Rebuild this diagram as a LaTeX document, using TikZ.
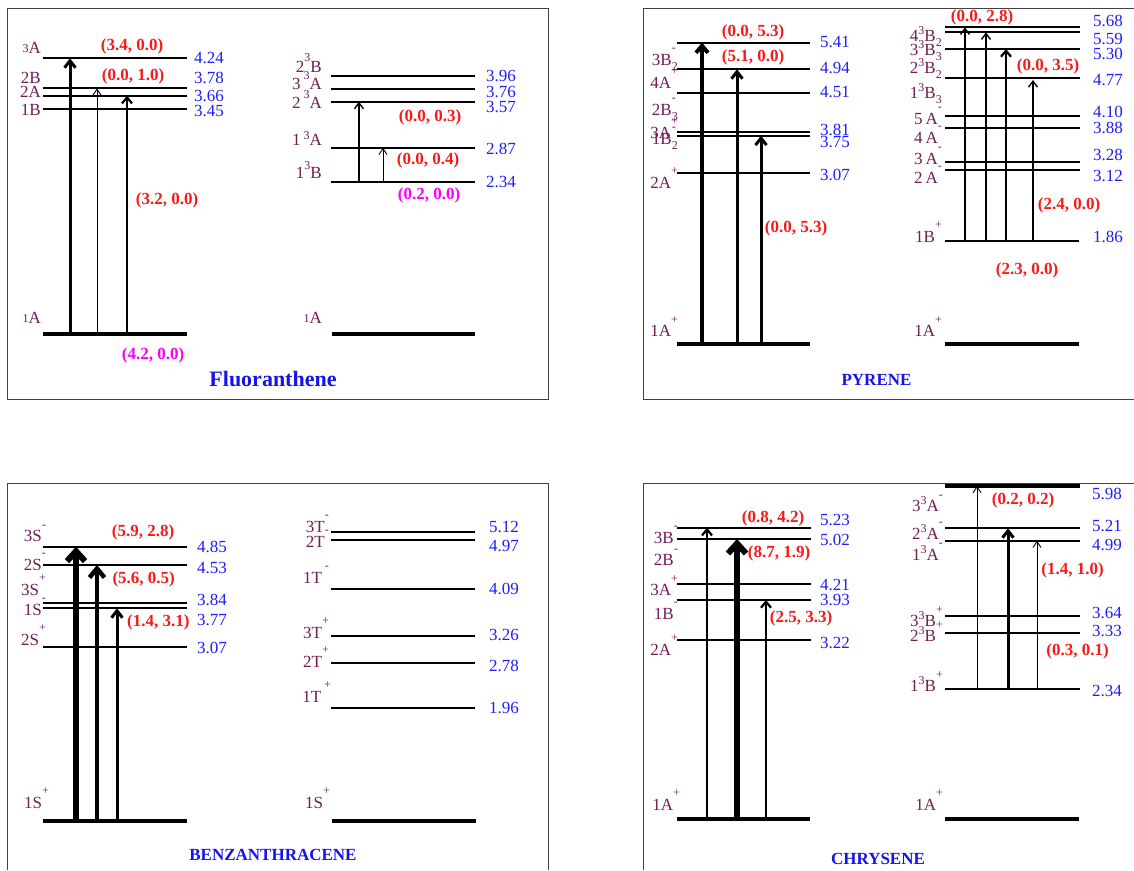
\documentclass[tikz,border=0pt]{standalone}
\usepackage{fontspec}
\setmainfont{Liberation Serif}
\usetikzlibrary{arrows.meta}
\definecolor{labc}{RGB}{112,30,86}
\definecolor{valc}{RGB}{30,30,250}
\definecolor{oscc}{RGB}{250,25,25}
\definecolor{magc}{RGB}{250,0,250}
\definecolor{ttlc}{RGB}{20,20,235}
\newcommand\fm{\fontsize{17}{20}\selectfont}
\newcommand\fsm{\fontsize{12}{14}\selectfont}
% state-label decorations
\newcommand\lsup[1]{\raisebox{0.8em}{\fsm #1}}
\newcommand\lsub[1]{\raisebox{-0.3em}{\fsm #1}}
\newcommand\lsupsub[2]{\makebox[0pt][l]{\lsup{#1}}\lsub{#2}}
\newcommand\ltri[2][0.4em]{\raisebox{#1}{\fsm #2}}
\newcommand\lpre[1]{\raisebox{0.05em}{\fsm #1}}
% drawing helpers
\newcounter{nd}
\newcommand\lvl[3]{\draw[lev] (#1,#3) -- (#2,#3);}
\newcommand\lvlab[3]{\stepcounter{nd}\node[lab] (lb\arabic{nd}) at (#1,#2) {#3};}
\newcommand\lvval[3]{\stepcounter{nd}\node[val] (vl\arabic{nd}) at (#1,#2) {#3};}
\newcommand\lvosc[4][osc]{\stepcounter{nd}\node[#1] (os\arabic{nd}) at (#2,#3) {#4};}
\newcommand\lvtr[5]{\coordinate (#1s) at (#2,#3); \coordinate (#1e) at (#2,#4); \draw[#5] (#1s) -- (#1e);}
\begin{document}
\begin{tikzpicture}[x=1pt,y=-1pt,
  lev/.style={line width=2.2pt},
  gnd/.style={line width=3.6pt},
  frame/.style={line width=1pt, draw=black!75},
  lab/.style={text=labc, anchor=base east, inner sep=0pt, font=\fm},
  val/.style={text=valc, anchor=base west, inner sep=0pt, font=\fm},
  osc/.style={text=oscc, font=\fm\bfseries, inner sep=0pt},
  osm/.style={text=magc, font=\fm\bfseries, inner sep=0pt},
  ttl/.style={text=ttlc, anchor=base, inner sep=0pt},
  tA/.style={line width=0.9pt, -{Straight Barb[length=6pt,width=8pt]}},
  tB/.style={line width=1.4pt, -{Straight Barb[length=6pt,width=9pt]}},
  tC/.style={line width=2.2pt, -{Straight Barb[length=6pt,width=10pt]}},
  tD/.style={line width=3pt, -{Straight Barb[length=7pt,width=11pt]}},
  tE/.style={line width=4pt, -{Straight Barb[length=7pt,width=12pt]}},
  tF/.style={line width=6pt, -{Straight Barb[length=10pt,width=18pt]}},
  tG/.style={line width=4.5pt, -{Straight Barb[length=9pt,width=15pt]}}]
\fill[white] (0,0) rectangle (1134,870);
\path[use as bounding box] (0,0) rectangle (1134,870);

% ---------- frames ----------
\draw[frame] (7,8) rectangle (548,399);
\draw[frame] (1134,8) -- (643,8) -- (643,399) -- (1134,399);
\draw[frame] (7,870) -- (7,483) -- (548,483) -- (548,870);
\draw[frame] (643,870) -- (643,483) -- (1134,483);

% ================= Fluoranthene =================
\lvosc{132}{46}{(3.4, 0.0)}
\lvosc{133}{76}{(0.0, 1.0)}
\lvosc{167}{200}{(3.2, 0.0)}
\lvosc[osm]{153}{355}{(4.2, 0.0)}
\lvosc{430}{117.5}{(0.0, 0.3)}
\lvosc{428}{160}{(0.0, 0.4)}
\lvosc[osm]{429}{195.5}{(0.2, 0.0)}
\stepcounter{nd}\node[ttl, font=\fontsize{22}{26}\selectfont\bfseries] (ttlF) at (273,386) {Fluoranthene};

\lvl{43}{187}{58.3}
\lvl{43}{187}{88.3}
\lvl{43}{187}{95.7}
\lvl{43}{187}{109.3}
\draw[gnd] (43,334) -- (187,334);
\lvl{331}{475}{76}
\lvl{331}{475}{89.3}
\lvl{331}{475}{101.7}
\lvl{331}{475}{147.7}
\lvl{331}{475}{182.3}
\draw[gnd] (332,334) -- (475,334);

\lvtr{fa}{70}{334}{58.3}{tD}
\lvtr{fb}{97}{334}{88.3}{tA}
\lvtr{fc}{127}{334}{95.7}{tC}
\lvtr{fd}{359}{182.3}{101.7}{tB}
\lvtr{fe}{383}{182.3}{147.7}{tA}

\lvlab{41}{53}{\lpre{3}A}
\lvlab{41}{83}{2B}
\lvlab{41}{97.5}{2A}
\lvlab{41}{115}{1B}
\lvlab{41}{323}{\lpre{1}A}
\lvlab{322}{72}{2\ltri[0.6em]{3}B}
\lvlab{322}{89}{3\,\ltri[0.55em]{3}A}
\lvlab{322}{108}{2\,\ltri[0.55em]{3}A}
\lvlab{322}{145}{1\,\ltri[0.3em]{3}A}
\lvlab{322}{178}{1\ltri[0.5em]{3}B}
\lvlab{322}{323}{\lpre{1}A}

\lvval{194}{63}{4.24}
\lvval{194}{83}{3.78}
\lvval{194}{101.5}{3.66}
\lvval{194}{116}{3.45}
\lvval{486}{81}{3.96}
\lvval{486}{97}{3.76}
\lvval{486}{112}{3.57}
\lvval{486}{154}{2.87}
\lvval{486}{187}{2.34}

% ================= Pyrene =================
\lvosc{753}{32.5}{(0.0, 5.3)}
\lvosc{753}{57.5}{(5.1, 0.0)}
\lvosc{796}{228}{(0.0, 5.3)}
\lvosc{982}{17}{(0.0, 2.8)}
\lvosc{1048}{66}{(0.0, 3.5)}
\lvosc{1069}{205}{(2.4, 0.0)}
\lvosc{1027}{270}{(2.3, 0.0)}
\stepcounter{nd}\node[ttl, font=\fm\bfseries] (ttlP) at (876.5,385) {PYRENE};

\lvl{677}{810}{42.7}
\lvl{677}{810}{69.3}
\lvl{677}{810}{92.7}
\lvl{677}{810}{131.7}
\lvl{677}{810}{135.7}
\lvl{677}{810}{173.3}
\draw[gnd] (677,344) -- (810,344);
\lvl{945}{1080}{27.3}
\lvl{945}{1080}{32.3}
\lvl{945}{1080}{49}
\lvl{945}{1080}{78.3}
\lvl{945}{1080}{115.7}
\lvl{945}{1080}{128.3}
\lvl{945}{1080}{161.7}
\lvl{945}{1080}{170}
\lvl{945}{1079}{240.7}
\draw[gnd] (945,344) -- (1079,344);

\lvtr{pa}{702}{344}{42.7}{tE}
\lvtr{pb}{737}{344}{69.3}{tD}
\lvtr{pc}{761}{344}{135.7}{tD}
\lvtr{pd}{965}{240.7}{27.3}{tB}
\lvtr{pe}{986}{240.7}{32.3}{tB}
\lvtr{pf}{1006}{240.7}{49}{tC}
\lvtr{pg}{1033}{240.7}{80}{tB}

\lvlab{678}{65}{3B\lsupsub{-}{2}}
\lvlab{678}{88}{4A\lsup{+}}
\lvlab{678}{115}{2B\lsupsub{-}{3}}
\lvlab{678}{138}{3A\lsup{+}}
\lvlab{678}{144}{1B\lsupsub{-}{2}}
\lvlab{678}{188}{2A\lsup{+}}
\lvlab{678}{336.7}{1A\lsup{+}}
\lvlab{942}{41.7}{4\ltri{3}B\lsub{2}}
\lvlab{942}{55}{3\ltri{3}B\lsub{3}}
\lvlab{942}{73.5}{2\ltri{3}B\lsub{2}}
\lvlab{942}{98}{1\ltri{3}B\lsub{3}}
\lvlab{942}{124}{5\,A\lsup{-}}
\lvlab{942}{143.3}{4\,A\lsup{-}}
\lvlab{942}{164}{3\,A\lsup{-}}
\lvlab{942}{183.3}{2\,A\lsup{-}}
\lvlab{942}{242.3}{1B\lsup{+}}
\lvlab{942}{336.7}{1A\lsup{+}}

\lvval{820}{47}{5.41}
\lvval{820}{73}{4.94}
\lvval{820}{97.5}{4.51}
\lvval{820}{135}{3.81}
\lvval{820}{147}{3.75}
\lvval{820}{180}{3.07}
\lvval{1093}{26.7}{5.68}
\lvval{1093}{44}{5.59}
\lvval{1093}{59}{5.30}
\lvval{1093}{85.7}{4.77}
\lvval{1093}{117.7}{4.10}
\lvval{1093}{133.3}{3.88}
\lvval{1093}{160}{3.28}
\lvval{1093}{181.7}{3.12}
\lvval{1093}{242.3}{1.86}

% ================= Benzanthracene =================
\lvosc{143}{532}{(5.9, 2.8)}
\lvosc{143.7}{579}{(5.6, 0.5)}
\lvosc{158.3}{622.5}{(1.4, 3.1)}
\stepcounter{nd}\node[ttl, font=\fm\bfseries] (ttlB) at (273,860.5) {BENZANTHRACENE};

\lvl{43}{187}{546.7}
\lvl{43}{187}{565}
\lvl{43}{187}{603.3}
\lvl{43}{187}{608.3}
\lvl{43}{187}{646.7}
\draw[gnd] (43,821) -- (187,821);
\lvl{331}{475}{531.7}
\lvl{331}{475}{540}
\lvl{331}{475}{589}
\lvl{331}{475}{635.7}
\lvl{331}{475}{662.7}
\lvl{331}{475}{708.3}
\draw[gnd] (332,821) -- (476,821);

\lvtr{ba}{76}{821}{546.7}{tF}
\lvtr{bb}{97}{821}{565}{tG}
\lvtr{bc}{117}{821}{608.3}{tD}

\lvlab{46}{541.7}{3S\lsup{-}}
\lvlab{46}{570}{2S\lsup{-}}
\lvlab{46}{595}{3S\lsup{+}}
\lvlab{46}{615}{1S\lsup{-}}
\lvlab{46}{645}{2S\lsup{+}}
\lvlab{49}{808}{1S\lsup{+}}
\lvlab{329}{532}{3T\lsup{-}}
\lvlab{329}{547}{2T\lsup{-}}
\lvlab{329}{583}{1T\,\lsup{-}}
\lvlab{329}{638}{3T\lsup{+}}
\lvlab{329}{667}{2T\lsup{+}}
\lvlab{331}{702}{1T\,\lsup{+}}
\lvlab{330}{808}{1S\lsup{+}}

\lvval{197}{552.7}{4.85}
\lvval{197}{573}{4.53}
\lvval{197}{605.7}{3.84}
\lvval{197}{625}{3.77}
\lvval{197}{653}{3.07}
\lvval{489}{532}{5.12}
\lvval{489}{551.7}{4.97}
\lvval{489}{594}{4.09}
\lvval{489}{640}{3.26}
\lvval{489}{671}{2.78}
\lvval{489}{713}{1.96}

% ================= Chrysene =================
\lvosc{773}{518}{(0.8, 4.2)}
\lvosc{779}{553}{(8.7, 1.9)}
\lvosc{801}{618}{(2.5, 3.3)}
\lvosc{1023}{500}{(0.2, 0.2)}
\lvosc{1072.5}{570}{(1.4, 1.0)}
\lvosc{1077.5}{651.5}{(0.3, 0.1)}
\stepcounter{nd}\node[ttl, font=\fm\bfseries] (ttlC) at (878,864) {CHRYSENE};

\lvl{677}{811}{527.7}
\lvl{677}{811}{539}
\lvl{677}{811}{584.3}
\lvl{677}{811}{600}
\lvl{677}{811}{640}
\draw[gnd] (677,819) -- (810,819);
\draw[gnd] (945,486) -- (1080,486);
\lvl{945}{1080}{528.3}
\lvl{945}{1080}{540.7}
\lvl{945}{1080}{616}
\lvl{945}{1080}{633.3}
\lvl{945}{1080}{689}
\draw[gnd] (945,819) -- (1079,819);

\lvtr{ca}{707}{819}{527.7}{tC}
\lvtr{cb}{737}{819}{539}{tF}
\lvtr{cc}{766}{819}{600}{tC}
\lvtr{cd}{977}{689}{486}{tA}
\lvtr{ce}{1008}{689}{528.3}{tD}
\lvtr{cf}{1037}{689}{540.7}{tA}

\lvlab{678}{543.3}{3B\lsup{-}}
\lvlab{678}{565.7}{2B\lsup{-}}
\lvlab{678}{595.7}{3A\lsup{+}}
\lvlab{678}{619}{1B\lsup{-}}
\lvlab{678}{655.5}{2A\lsup{+}}
\lvlab{680}{810}{1A\lsup{+}}
\lvlab{943}{511.7}{3\ltri{3}A\lsup{-}}
\lvlab{943}{539.3}{2\ltri{3}A\lsup{-}}
\lvlab{943}{560}{1\ltri{3}A\lsup{-}}
\lvlab{943}{626.7}{3\ltri{3}B\lsup{+}}
\lvlab{943}{641.7}{2\ltri{3}B\lsup{+}}
\lvlab{943}{691.7}{1\ltri{3}B\lsup{+}}
\lvlab{943}{810}{1A\lsup{+}}

\lvval{820}{525.7}{5.23}
\lvval{820}{545.7}{5.02}
\lvval{820}{590}{4.21}
\lvval{820}{605.7}{3.93}
\lvval{820}{648.3}{3.22}
\lvval{1092}{499.3}{5.98}
\lvval{1092}{531.7}{5.21}
\lvval{1092}{550}{4.99}
\lvval{1092}{618.3}{3.64}
\lvval{1092}{636.7}{3.33}
\lvval{1092}{696.7}{2.34}
\end{tikzpicture}
\end{document}
